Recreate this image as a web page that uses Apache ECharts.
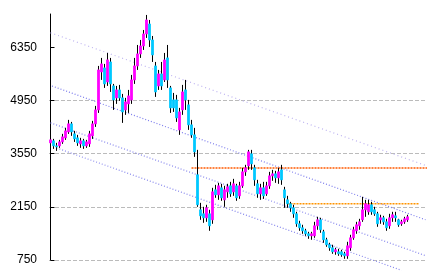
<!DOCTYPE html>
<html>
<head>
<meta charset="utf-8">
<script src="https://cdn.jsdelivr.net/npm/echarts@6/dist/echarts.min.js"></script>
<style>
html,body{margin:0;padding:0;background:#fff;}
#chart{width:432px;height:274px;}
</style>
</head>
<body>
<div id="chart"></div>
<script>
const open = [3833,3886,3754,3754,3859,3965,4122,4333,4070,3965,
3807,3886,3754,3807,4017,4333,4701,5700,5806,5437,
5963,5332,5017,5227,5017,4701,4859,4964,5490,5858,
6174,6384,6700,6963,6542,5858,5332,5648,5490,6069,
5280,4964,4964,4175,4701,5227,4833,4307,4044,2992,
2071,1966,1861,1966,1808,2597,2466,2650,2334,2544,
2702,2544,2702,2439,2702,3070,3228,3544,3176,2755,
2492,2650,2492,2702,2965,3018,2913,3123,2597,2334,
2229,2124,1966,1703,1598,1519,1440,1387,1387,1650,
1808,1492,1282,1151,1072,966,966,966,914,861,
1072,1335,1519,1650,1808,2071,2018,2203,2071,1966,
1808,1861,1755,1650,1861,1913,1808,1703,1755,1808];
const close = [3912,3754,3728,3859,3991,4149,4333,4122,3938,3833,
3886,3754,3859,4070,4333,4701,5753,5911,5385,6016,
5385,4964,5227,5017,4648,4911,5069,5490,5858,6174,
6384,6700,7068,6542,6148,5174,5648,5332,6016,5490,
4754,4754,4491,4648,5174,4964,4307,4044,3596,2203,
1913,1861,2124,1650,2544,2466,2702,2387,2597,2676,
2492,2755,2387,2702,3070,3176,3596,3281,2860,2492,
2650,2439,2702,2965,3018,2913,3070,2860,2387,2229,
2124,1966,1703,1598,1519,1440,1387,1440,1650,1808,
1545,1282,1151,1072,966,1019,914,888,861,1124,
1335,1545,1677,1755,2071,2229,2203,2018,1966,1703,
1861,1755,1598,1861,1940,1861,1677,1755,1834,1887];
const low = [3754,3675,3623,3702,3807,3912,4070,4017,3859,3754,
3702,3675,3702,3728,3938,4254,4622,5490,5280,5332,
5174,4701,4859,4938,4359,4570,4622,4859,5385,5753,
6069,6279,6595,6358,5963,5043,5227,5227,5437,5280,
4622,4648,4385,4044,4570,4701,4175,3965,3465,2150,
1808,1729,1755,1519,1703,2387,2334,2308,2150,2387,
2413,2439,2308,2360,2650,2965,3123,3123,2702,2387,
2334,2360,2439,2623,2834,2781,2755,2729,2124,2124,
2018,1861,1624,1519,1440,1387,1308,1282,1335,1545,
1466,1203,1098,993,914,888,861,835,782,782,
993,1282,1440,1545,1755,1887,1940,1940,1913,1624,
1703,1677,1519,1571,1755,1755,1624,1650,1703,1755];
const high = [3991,3938,3833,3912,4070,4228,4438,4385,4149,4044,
3965,3938,3912,4149,4412,4806,5858,6069,5911,6200,
6069,5385,5332,5359,5122,5017,5227,5622,6069,6410,
6542,6805,7200,7068,6647,5963,5753,5963,6200,6410,
5332,5148,5096,4754,5359,5490,4964,4438,4228,3649,
2255,2150,2203,2071,2650,2729,2781,2755,2702,2755,
2807,2886,2755,2807,3176,3255,3649,3649,3255,2860,
2755,2807,2807,3070,3123,3097,3176,3255,2676,2439,
2281,2203,2018,1782,1677,1571,1492,1492,1755,1887,
1861,1545,1335,1203,1151,1072,1045,1019,966,1229,
1413,1624,1755,1834,2413,2334,2334,2281,2150,2018,
1940,1913,1834,1966,2018,2018,1834,1808,1887,1940];

const days = open.map((_, i) => 'd' + (i + 1));
const futureSlots = ['f1', 'f2', 'f3', 'f4', 'f5', 'f6'];
const yTicks = [750, 2150, 3550, 4950, 6350];

// trend lines: [slotIndex, value]
const trendA = [[0, 6730], [125, 3240]];
const trendB = [[0.5, 5330], [125, 1810]];
const trendC = [[0, 4360], [125, 865]];
const trendD = [[2, 3700], [117, 480]];
const resistance = [[47, 3170], [125.5, 3170]];
const support = [[79, 2230], [123, 2230]];

const categories = days.concat(futureSlots);
const ohlc = open.map((o, i) => [o, close[i], low[i], high[i]]);
const bodies = open.map((o, i) => [o, close[i], Math.min(o, close[i]), Math.max(o, close[i])]);

function trend(data, color, dash, width, clip) {
  return {
    type: 'line', xAxisIndex: 1, data: data, symbol: 'none', silent: true,
    clip: clip, z: 1,
    lineStyle: { color: color, width: width, type: dash }
  };
}

const chart = echarts.init(document.getElementById('chart'), null, { renderer: 'canvas' });
chart.setOption({
  animation: false,
  backgroundColor: '#ffffff',
  grid: { left: 49, right: 5, top: 14, bottom: 14 },
  xAxis: [
    { type: 'category', data: categories, boundaryGap: true, show: false },
    { type: 'value', min: -0.5, max: categories.length - 0.5, show: false }
  ],
  yAxis: {
    type: 'value', min: yTicks[0], max: 7225, interval: yTicks[1] - yTicks[0],
    axisLine: { show: true, lineStyle: { color: '#000', width: 1 } },
    axisTick: { show: true, inside: true, length: 4, lineStyle: { color: '#000' }, customValues: yTicks },
    axisLabel: {
      show: true, color: '#000', fontSize: 12, margin: 12,
      fontFamily: '"Liberation Sans Narrow", "Liberation Sans", sans-serif',
      customValues: yTicks,
      formatter: function (v) { return String(v); }
    },
    splitLine: { show: true, showMaxLine: false, lineStyle: { color: '#bbbbbb', width: 1, type: [4, 2] } }
  },
  series: [
    trend(trendA, '#bdb3f0', [1, 3], 1.2, true),
    trend(trendB, '#7c7cec', [1, 2], 1.2, true),
    trend(trendC, '#8585ec', [1, 2], 1.2, true),
    trend(trendD, '#8585ec', [1, 2], 1.2, false),
    trend(resistance, '#ff5a00', [2, 1], 1.6, true),
    trend(support, '#ff9400', [2, 1], 1.6, true),
    {
      type: 'candlestick', data: ohlc, barWidth: 1, z: 2, silent: true,
      itemStyle: { color: '#000', color0: '#000', borderColor: '#000', borderColor0: '#000', borderWidth: 1 }
    },
    {
      type: 'candlestick', data: bodies, barWidth: 3, z: 3, silent: true,
      itemStyle: { color: '#ff00ff', color0: '#00c8ff', borderColor: '#ff00ff', borderColor0: '#00c8ff', borderWidth: 0.8 }
    }
  ]
});
</script>
</body>
</html>
